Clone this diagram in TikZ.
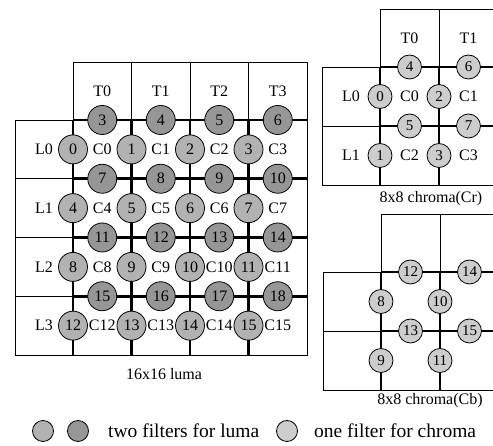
\documentclass[tikz,border=0pt]{standalone}
\usepackage{fontspec}
\setmainfont{Liberation Serif}
\usetikzlibrary{positioning}
\definecolor{lumalight}{RGB}{178,178,178}
\definecolor{lumadark}{RGB}{150,150,150}
\definecolor{chromafill}{RGB}{205,205,205}

\begin{document}
\begin{tikzpicture}[x=1pt, y=-1pt,
    thinline/.style={line width=0.8pt},
    thickline/.style={line width=2.6pt},
    lbl/.style={inner sep=0pt, font=\fontsize{16}{16}\selectfont},
    keylbl/.style={lbl, anchor=west, font=\fontsize{19.5}{20}\selectfont},
    lumav/.style={circle, draw, line width=0.8pt, fill=lumalight, minimum size=29pt,
                  inner sep=0pt, font=\fontsize{16}{16}\selectfont},
    lumah/.style={lumav, fill=lumadark},
    chromav/.style={lumav, fill=chromafill, minimum size=24pt, font=\fontsize{15}{15}\selectfont}]
  \useasboundingbox (0,0) rectangle (493,446);
  \clip (0,0) rectangle (493,446);

  % 16x16 luma
  \draw[thinline] (73,62) rectangle (307,120);
  \foreach \j in {1,2,3}
    \draw[thinline] (73+\j*58.5,62) -- (73+\j*58.5,120);
  \draw[thinline] (15,120) rectangle (73,355);
  \foreach \i in {1,2,3}
    \draw[thinline] (15,120+\i*58.75) -- (73,120+\i*58.75);
  \draw[thinline] (307,120) -- (307,355) -- (73,355);
  \foreach \k in {0,...,3} {
    \draw[thickline] (73+\k*58.5,120) -- (73+\k*58.5,355);
    \draw[thickline] (73,120+\k*58.75) -- (307,120+\k*58.75);
  }
  \foreach \j in {0,...,3}
    \node[lbl] (lt\j) at (102.25+\j*58.5,91) {T\j};
  \foreach \i in {0,...,3}
    \node[lbl] (ll\i) at (44,149.4+\i*58.75) {L\i};
  \foreach \i in {0,...,3}
    \foreach \j in {0,...,3} {
      \pgfmathtruncatemacro\c{4*\i+\j}
      \node[lbl] (lc\c) at (102.25+\j*58.5,149.4+\i*58.75) {C\c};
    }
  \foreach \i in {0,...,3}
    \foreach \j in {0,...,3} {
      \pgfmathtruncatemacro\v{4*\i+\j}
      \pgfmathtruncatemacro\h{4*\i+\j+3}
      \node[lumav] (lv\v) at (73+\j*58.5,149.4+\i*58.75) {\v};
      \node[lumah] (lh\h) at (102.25+\j*58.5,120+\i*58.75) {\h};
    }
  \node[lbl] (lumacap) at (164,374) {16x16 luma};

  % 8x8 chroma (Cr)
  \draw[thinline] (380,9) rectangle (498,67);
  \draw[thinline] (439,9) -- (439,67);
  \draw[thinline] (322,67) rectangle (380,185);
  \draw[thinline] (322,126) -- (380,126);
  \draw[thinline] (380,185) -- (498,185);
  \foreach \k in {0,1} {
    \draw[thickline] (380+\k*59,67) -- (380+\k*59,185);
    \draw[thickline] (380,67+\k*59) -- (498,67+\k*59);
  }
  \foreach \j in {0,1}
    \node[lbl] (crt\j) at (409.5+\j*59,38) {T\j};
  \foreach \i in {0,1}
    \node[lbl] (crl\i) at (351,96.5+\i*59) {L\i};
  \foreach \i in {0,1}
    \foreach \j in {0,1} {
      \pgfmathtruncatemacro\c{2*\i+\j}
      \node[lbl] (crc\c) at (409.5+\j*59,96.5+\i*59) {C\c};
    }
  \foreach \i in {0,1}
    \foreach \j in {0,1} {
      \pgfmathtruncatemacro\v{2*\j+\i}
      \pgfmathtruncatemacro\h{2*\j+\i+4}
      \node[chromav] (crv\v) at (380+\j*59,96.5+\i*59) {\v};
      \node[chromav] (crh\h) at (409.5+\j*59,67+\i*59) {\h};
    }
  \node[lbl] (crcap) at (431,199) {8x8 chroma(Cr)};

  % 8x8 chroma (Cb)
  \draw[thinline] (381,214) rectangle (499,272);
  \draw[thinline] (440,214) -- (440,272);
  \draw[thinline] (323,272) rectangle (381,390);
  \draw[thinline] (323,331) -- (381,331);
  \draw[thinline] (381,390) -- (499,390);
  \foreach \k in {0,1} {
    \draw[thickline] (381+\k*59,272) -- (381+\k*59,390);
    \draw[thickline] (381,272+\k*59) -- (499,272+\k*59);
  }
  \foreach \i in {0,1}
    \foreach \j in {0,1} {
      \pgfmathtruncatemacro\v{2*\j+\i+8}
      \pgfmathtruncatemacro\h{2*\j+\i+12}
      \node[chromav] (cbv\v) at (381+\j*59,301.5+\i*59) {\v};
      \node[chromav] (cbh\h) at (410.5+\j*59,272+\i*59) {\h};
    }
  \node[lbl] (cbcap) at (430,401) {8x8 chroma(Cb)};

  % legend
  \node[lumav, minimum size=21pt] (keyv) at (43,431) {};
  \node[lumah, minimum size=21pt] (keyh) at (78,431) {};
  \node[keylbl] (keyluma) at (108,431) {two filters for luma};
  \node[chromav, minimum size=21pt] (keyc) at (287,431) {};
  \node[keylbl] (keychroma) at (314,431) {one filter for chroma};
\end{tikzpicture}
\end{document}
